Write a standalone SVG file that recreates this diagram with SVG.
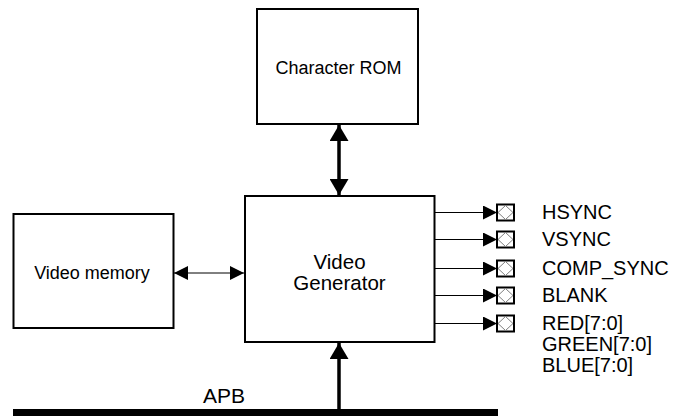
<svg xmlns="http://www.w3.org/2000/svg" width="677" height="416" viewBox="0 0 677 416">
<style>
.box{fill:#fff;stroke:#000;stroke-width:2}
.t{font-family:"Liberation Sans",Arial,sans-serif;fill:#000}
.thin{stroke:#000;stroke-width:1;fill:none}
.thick{stroke:#000;stroke-width:3.5;fill:none}
.pin{fill:#fff;stroke:#000;stroke-width:2}
.dia{fill:none;stroke:#808080;stroke-width:1}
</style>
<defs>
<marker id="ah" viewBox="0 0 14 14" refX="14" refY="7" markerWidth="14" markerHeight="14" markerUnits="userSpaceOnUse" orient="auto-start-reverse"><path d="M0,0 L14,7 L0,14 z" fill="#000"/></marker>
<marker id="ahb" viewBox="0 0 16 19" refX="16" refY="9.5" markerWidth="16" markerHeight="19" markerUnits="userSpaceOnUse" orient="auto-start-reverse"><path d="M0,0 L16,9.5 L0,19 z" fill="#000"/></marker>
</defs>
<g id="connectors">
<line class="thick" x1="339" y1="125" x2="339" y2="195" marker-start="url(#ahb)" marker-end="url(#ahb)"/>
<line class="thin" x1="174" y1="273" x2="244" y2="273" marker-start="url(#ah)" marker-end="url(#ah)"/>
<line class="thick" x1="339" y1="409" x2="339" y2="343" marker-end="url(#ahb)"/>
<line class="thin" x1="435" y1="212.5" x2="497" y2="212.5" marker-end="url(#ah)"/>
<line class="thin" x1="435" y1="239.5" x2="497" y2="239.5" marker-end="url(#ah)"/>
<line class="thin" x1="435" y1="268.5" x2="497" y2="268.5" marker-end="url(#ah)"/>
<line class="thin" x1="435" y1="295.5" x2="497" y2="295.5" marker-end="url(#ah)"/>
<line class="thin" x1="435" y1="323.5" x2="497" y2="323.5" marker-end="url(#ah)"/>
</g>
<g id="character-rom">
<rect class="box" x="257" y="9" width="161" height="115"/>
<text class="t" x="338.5" y="74" font-size="18" text-anchor="middle">Character ROM</text>
</g>
<g id="video-memory">
<rect class="box" x="13.5" y="214" width="160" height="114"/>
<text class="t" x="92" y="279" font-size="18" text-anchor="middle">Video memory</text>
</g>
<g id="video-generator">
<rect class="box" x="245" y="196" width="189.5" height="146"/>
<text class="t" x="339.5" y="268.5" font-size="20.5" text-anchor="middle">Video</text>
<text class="t" x="339.5" y="289.5" font-size="20.5" text-anchor="middle">Generator</text>
</g>
<g id="apb">
<rect x="13" y="409" width="485" height="8" fill="#000"/>
<text class="t" x="203" y="403" font-size="21">APB</text>
</g>
<g id="pins">
<rect class="pin" x="497" y="204.5" width="17" height="16"/><path class="dia" d="M505.5,205.5 L513,212.5 L505.5,219.5 L498,212.5 z"/>
<rect class="pin" x="497" y="231.5" width="17" height="16"/><path class="dia" d="M505.5,232.5 L513,239.5 L505.5,246.5 L498,239.5 z"/>
<rect class="pin" x="497" y="260.5" width="17" height="16"/><path class="dia" d="M505.5,261.5 L513,268.5 L505.5,275.5 L498,268.5 z"/>
<rect class="pin" x="497" y="287.5" width="17" height="16"/><path class="dia" d="M505.5,288.5 L513,295.5 L505.5,302.5 L498,295.5 z"/>
<rect class="pin" x="497" y="315.5" width="17" height="16"/><path class="dia" d="M505.5,316.5 L513,323.5 L505.5,330.5 L498,323.5 z"/>
</g>
<g id="labels" class="t" font-size="20">
<text x="542" y="219">HSYNC</text>
<text x="542" y="246">VSYNC</text>
<text x="542" y="275">COMP_SYNC</text>
<text x="542" y="302">BLANK</text>
<text x="542" y="330">RED[7:0]</text>
<text x="542" y="351">GREEN[7:0]</text>
<text x="542" y="372">BLUE[7:0]</text>
</g>
</svg>
